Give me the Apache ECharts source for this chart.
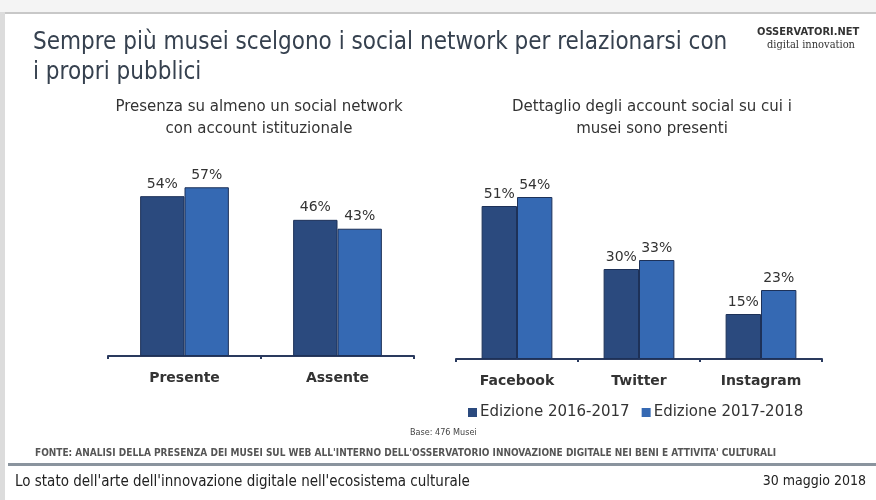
<!DOCTYPE html>
<html><head><meta charset="utf-8">
<script src="https://cdn.jsdelivr.net/npm/echarts@6/dist/echarts.min.js"></script>
<style>html,body{margin:0;padding:0;background:#fff}#c{width:876px;height:500px}</style>
</head><body><div id="c"></div>
<script>
const seriesNames = ['Edizione 2016-2017', 'Edizione 2017-2018'];
const leftCategories = ['Presente', 'Assente'];
const left2016 = [54, 46];
const left2017 = [57, 43];
const rightCategories = ['Facebook', 'Twitter', 'Instagram'];
const right2016 = [51, 30, 15];
const right2017 = [54, 33, 23];

const DARK = '#2b4a7e';
const LIGHT = '#3569b3';
const chart = echarts.init(document.getElementById('c'), null, {renderer: 'canvas'});
const titleFont = '"DejaVu Sans Condensed", "DejaVu Sans", sans-serif';
const bodyFont = '"DejaVu Sans", sans-serif';

function xAx(idx, cats) {
  return {
    type: 'category', gridIndex: idx, data: cats,
    axisLine: {lineStyle: {color: '#2a3a5e', width: 2}},
    axisTick: {show: true, length: 3, lineStyle: {color: '#2a3a5e', width: 2}},
    axisLabel: {color: '#333', fontSize: 14, fontWeight: 'bold', fontFamily: bodyFont, margin: 15}
  };
}
function yAx(idx) {
  return {type: 'value', gridIndex: idx, min: 0, max: 100, show: false};
}
function bar(name, data, idx, color) {
  return {
    name, type: 'bar', xAxisIndex: idx, yAxisIndex: idx, data,
    barGap: '0%', barCategoryGap: '42%',
    itemStyle: {color, borderColor: '#1d3158', borderWidth: 1},
    label: {show: true, position: 'top', formatter: '{c}%', color: '#333', fontSize: 14, fontFamily: bodyFont, distance: 5}
  };
}

chart.setOption({
  animation: false,
  backgroundColor: '#fff',
  grid: [
    {left: 108, width: 306, top: 60, height: 296},
    {left: 456, width: 366, top: 59, height: 300}
  ],
  xAxis: [xAx(0, leftCategories), xAx(1, rightCategories)],
  yAxis: [yAx(0), yAx(1)],
  legend: {
    data: seriesNames, left: 463, top: 400, itemWidth: 9, itemHeight: 9, itemGap: 12,
    icon: 'rect',
    itemStyle: {borderWidth: 0},
    textStyle: {color: '#333', fontSize: 15, fontFamily: bodyFont, padding: [0, 0, 0, -2]}
  },
  series: [
    bar(seriesNames[0], left2016, 0, DARK),
    bar(seriesNames[1], left2017, 0, LIGHT),
    bar(seriesNames[0], right2016, 1, DARK),
    bar(seriesNames[1], right2017, 1, LIGHT)
  ],
  graphic: [
    {type: 'rect', shape: {x: 0, y: 0, width: 876, height: 12}, style: {fill: '#f4f4f4'}, silent: true},
    {type: 'rect', shape: {x: 4, y: 12, width: 872, height: 2}, style: {fill: '#c8c8c8'}, silent: true},
    {type: 'rect', shape: {x: 0, y: 12, width: 5, height: 488}, style: {fill: '#dcdcdc'}, silent: true},
    {type: 'text', x: 33, y: 28, style: {text: 'Sempre più musei scelgono i social network per relazionarsi con\ni propri pubblici', font: '24px ' + titleFont, fill: '#36414f', lineHeight: 30}},
    {type: 'text', x: 757, y: 27, style: {text: 'OSSERVATORI.NET', font: 'bold 11px ' + titleFont, fill: '#333'}},
    {type: 'text', x: 767, y: 40, style: {text: 'digital innovation', font: '11px "DejaVu Serif Condensed", "DejaVu Serif", serif', fill: '#333'}},
    {type: 'text', x: 259, y: 96, style: {text: 'Presenza su almeno un social network\ncon account istituzionale', font: '15px ' + bodyFont, fill: '#333', align: 'center', lineHeight: 22}},
    {type: 'text', x: 652, y: 96, style: {text: 'Dettaglio degli account social su cui i\nmusei sono presenti', font: '15px ' + bodyFont, fill: '#333', align: 'center', lineHeight: 22}},
    {type: 'text', x: 410, y: 428, style: {text: 'Base: 476 Musei', font: '9px ' + titleFont, fill: '#444'}},
    {type: 'text', x: 35, y: 448, style: {text: "FONTE: ANALISI DELLA PRESENZA DEI MUSEI SUL WEB ALL'INTERNO DELL'OSSERVATORIO INNOVAZIONE DIGITALE NEI BENI E ATTIVITA' CULTURALI", font: 'bold 10px ' + titleFont, fill: '#555'}},
    {type: 'rect', shape: {x: 8, y: 463, width: 868, height: 3}, style: {fill: '#8a949e'}, silent: true},
    {type: 'text', x: 15, y: 475, style: {text: "Lo stato dell'arte dell'innovazione digitale nell'ecosistema culturale", font: '15px ' + titleFont, fill: '#222'}},
    {type: 'text', x: 866, y: 474, style: {text: '30 maggio 2018', font: '14px ' + titleFont, fill: '#222', align: 'right'}}
  ]
});
</script></body></html>
